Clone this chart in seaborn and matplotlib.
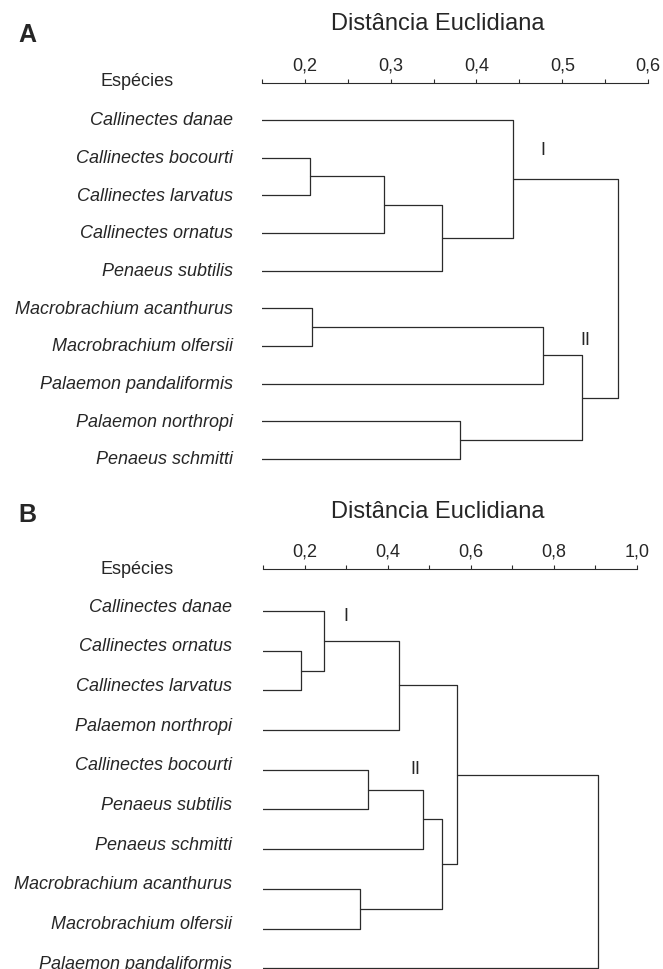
import matplotlib
matplotlib.use("Agg")
import matplotlib.pyplot as plt
import matplotlib.transforms as mtransforms
import pandas as pd
import seaborn as sns

sns.set_theme(style="white")
plt.rcParams["font.family"] = ["Liberation Sans", "DejaVu Sans"]

INK = "#262626"
LINE = "#2b2b2b"

# ---- Panel A: species order (top to bottom) and agglomeration steps ----
species_a = [
    "Callinectes danae",
    "Callinectes bocourti",
    "Callinectes larvatus",
    "Callinectes ornatus",
    "Penaeus subtilis",
    "Macrobrachium acanthurus",
    "Macrobrachium olfersii",
    "Palaemon pandaliformis",
    "Palaemon northropi",
    "Penaeus schmitti",
]
# (cluster, cluster, euclidean distance); new clusters numbered from len(species)
merges_a = [
    (1, 2, 0.206),
    (10, 3, 0.292),
    (11, 4, 0.360),
    (0, 12, 0.443),
    (5, 6, 0.208),
    (14, 7, 0.478),
    (8, 9, 0.381),
    (15, 16, 0.523),
    (13, 17, 0.565),
]
major_a = [0.2, 0.3, 0.4, 0.5, 0.6]
major_labels_a = ["0,2", "0,3", "0,4", "0,5", "0,6"]
minor_a = [0.15, 0.25, 0.35, 0.45, 0.55]
groups_a = [("I", 0.477, 0.80), ("II", 0.527, 5.86)]

# ---- Panel B ----
species_b = [
    "Callinectes danae",
    "Callinectes ornatus",
    "Callinectes larvatus",
    "Palaemon northropi",
    "Callinectes bocourti",
    "Penaeus subtilis",
    "Penaeus schmitti",
    "Macrobrachium acanthurus",
    "Macrobrachium olfersii",
    "Palaemon pandaliformis",
]
merges_b = [
    (1, 2, 0.190),
    (0, 10, 0.247),
    (11, 3, 0.428),
    (4, 5, 0.352),
    (13, 6, 0.485),
    (7, 8, 0.332),
    (14, 15, 0.530),
    (12, 16, 0.566),
    (17, 9, 0.906),
]
major_b = [0.2, 0.4, 0.6, 0.8, 1.0]
major_labels_b = ["0,2", "0,4", "0,6", "0,8", "1,0"]
minor_b = [0.1, 0.3, 0.5, 0.7, 0.9]
groups_b = [("I", 0.298, 0.14), ("II", 0.467, 4.0)]

W, H = 663, 969
fig = plt.figure(figsize=(W / 100, H / 100), dpi=100)


def px_axes(left, right, top, bottom):
    return fig.add_axes([left / W, 1 - bottom / H, (right - left) / W, (bottom - top) / H])


def dendrogram_segments(n_leaves, merges):
    pos = {i: (0.0, float(i)) for i in range(n_leaves)}
    rows = []
    for k, (a, b, h) in enumerate(merges):
        xa, ya = pos[a]
        xb, yb = pos[b]
        path = [(xa, ya), (h, ya), (h, yb), (xb, yb)]
        for j, (x, y) in enumerate(path):
            rows.append({"seg": k, "step": j, "dist": x, "row": y})
        pos[n_leaves + k] = (h, (ya + yb) / 2)
    return pd.DataFrame(rows)


def draw_panel(ax, species, merges, xlim, ylim, major, major_labels, minor,
               groups, label_gap_pt, label_dy_pt):
    segs = dendrogram_segments(len(species), merges)
    sns.lineplot(data=segs, x="dist", y="row", units="seg", estimator=None,
                 sort=False, color=LINE, linewidth=0.9, ax=ax, legend=False)
    ax.set_xlim(*xlim)
    ax.set_ylim(*ylim)
    ax.set_xlabel("")
    ax.set_ylabel("")
    ax.set_yticks([])
    for side in ["bottom", "left", "right"]:
        ax.spines[side].set_visible(False)
    ax.spines["top"].set_visible(True)
    ax.spines["top"].set_color(LINE)
    ax.spines["top"].set_linewidth(0.8)
    ax.xaxis.tick_top()
    ax.set_xticks(major)
    ax.set_xticklabels(major_labels)
    ax.set_xticks(minor, minor=True)
    ax.tick_params(axis="x", which="both", direction="out", length=2.8,
                   width=0.8, color=LINE, top=True, bottom=False,
                   labeltop=True, labelbottom=False, labelsize=13,
                   labelcolor=INK, pad=3.5)
    trans = mtransforms.blended_transform_factory(ax.transAxes, ax.transData)
    for i, name in enumerate(species):
        ax.annotate(name, xy=(0, i), xycoords=trans,
                    xytext=(-label_gap_pt, label_dy_pt), textcoords="offset points",
                    ha="right", va="center_baseline", fontsize=13,
                    style="italic", color=INK, annotation_clip=False)
    for text, gx, gy in groups:
        ax.text(gx, gy, text, ha="center", va="center", fontsize=13, color=INK)


# Panel A
ax_a = px_axes(261.7, 648.3, 83, 459 + 0.6 * 37.67)
draw_panel(ax_a, species_a, merges_a, (0.15, 0.6), (9.6, -0.982),
           major_a, major_labels_a, minor_a, groups_a, 20.7, 0.8)

# Panel B
ax_b = px_axes(263.3, 636.7, 569.3, 968.3 + 0.6 * 39.7)
draw_panel(ax_b, species_b, merges_b, (0.1, 1.0), (9.6, -1.05),
           major_b, major_labels_b, minor_b, groups_b, 22.3, 4.3)

# Headers
for letter, top_base, title_base, sp_base in [("A", 42, 30, 86), ("B", 522, 518, 574)]:
    fig.text(18 / W, 1 - top_base / H, letter, ha="left", va="baseline",
             fontsize=18, fontweight="bold", color=INK)
    fig.text(438 / W, 1 - title_base / H, "Distância Euclidiana", ha="center",
             va="baseline", fontsize=17, color=INK)
    fig.text(137.5 / W, 1 - sp_base / H, "Espécies", ha="center",
             va="baseline", fontsize=13, color=INK)

fig.savefig("out.png", dpi=100)
